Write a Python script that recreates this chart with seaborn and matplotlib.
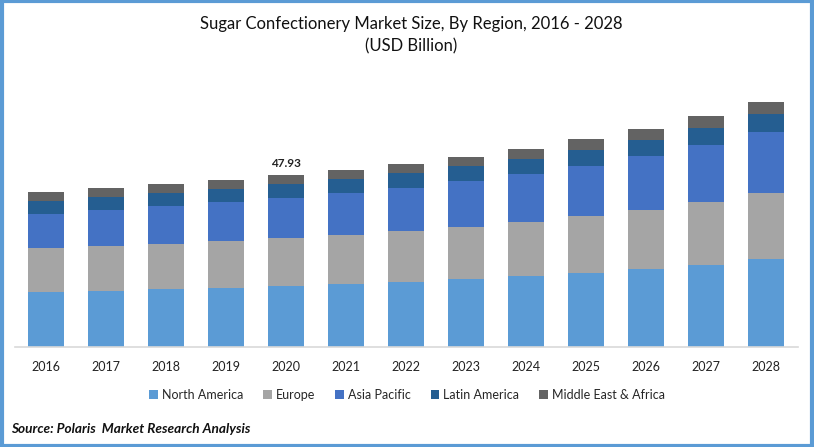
import numpy as np
import pandas as pd
import matplotlib
matplotlib.use('Agg')
import matplotlib.pyplot as plt
from matplotlib.patches import Rectangle, Patch
import seaborn as sns

# Data (USD Billion)
years = ['2016', '2017', '2018', '2019', '2020', '2021', '2022',
         '2023', '2024', '2025', '2026', '2027', '2028']
north_america = [15.33, 15.61, 16.16, 16.44, 17.00, 17.56, 18.11, 18.95, 19.79, 20.62, 21.74, 22.85, 24.52]
europe = [12.26, 12.54, 12.54, 13.10, 13.37, 13.66, 14.21, 14.49, 15.05, 15.88, 16.44, 17.56, 18.39]
asia_pacific = [9.48, 10.03, 10.59, 10.87, 11.15, 11.70, 11.98, 12.82, 13.38, 13.93, 15.05, 15.88, 17.00]
latin_america = [3.62, 3.62, 3.62, 3.62, 3.90, 3.90, 4.18, 4.18, 4.18, 4.46, 4.46, 4.74, 5.02]
mea = [2.51, 2.51, 2.51, 2.51, 2.51, 2.51, 2.51, 2.51, 2.79, 3.07, 3.07, 3.34, 3.34]

regions = ['North America', 'Europe', 'Asia Pacific', 'Latin America', 'Middle East & Africa']
colors = ['#5B9BD5', '#A5A5A5', '#4472C4', '#255E91', '#636363']
label_year = '2020'

df = pd.DataFrame({'year': years, 'North America': north_america, 'Europe': europe,
                   'Asia Pacific': asia_pacific, 'Latin America': latin_america,
                   'Middle East & Africa': mea})

sns.set_style('white')
plt.rcParams['font.family'] = ['Lato', 'DejaVu Sans']

fig = plt.figure(figsize=(8.14, 4.47), dpi=100)
ax = fig.add_axes([15 / 814, 1 - 347 / 447, 783 / 814, 258.4 / 447])

# stacked bars: draw cumulative totals from the top layer down
cum = df[regions].cumsum(axis=1)
for reg, col in zip(regions[::-1], colors[::-1]):
    sns.barplot(x=df['year'], y=cum[reg], color=col, width=0.6,
                saturation=1, linewidth=0, ax=ax)

total_2020 = df.loc[df['year'] == label_year, regions].sum(axis=1).iloc[0]
ax.text(years.index(label_year), total_2020 + 1.8, f'{total_2020:.2f}',
        ha='center', va='bottom', fontsize=8.5, fontweight='bold', color='#222222')

ax.set_ylim(0, 72)
ax.set_xlim(-0.517, 12.533)
ax.set_xlabel('')
ax.set_ylabel('')
ax.set_yticks([])
ax.tick_params(axis='x', length=0, labelsize=9, pad=10, colors='#222222')
for s in ['top', 'right', 'left']:
    ax.spines[s].set_visible(False)
ax.spines['bottom'].set_color('#D9D9D9')
ax.spines['bottom'].set_linewidth(1.2)

# title
fig.text(0.505, 1 - 24 / 447, 'Sugar Confectionery Market Size, By Region, 2016 - 2028',
         ha='center', va='center', fontsize=12, color='#111111')
fig.text(0.505, 1 - 46 / 447, '(USD Billion)', ha='center', va='center',
         fontsize=12, color='#111111')

# legend
handles = [Patch(facecolor=c, edgecolor='none', label=r) for r, c in zip(regions, colors)]
fig.legend(handles=handles, loc='center', bbox_to_anchor=(407 / 814, 1 - 395 / 447),
           ncol=5, frameon=False, fontsize=9, handlelength=0.7, handleheight=0.7,
           handletextpad=0.3, columnspacing=1.6)

# source
fig.text(11 / 814, 1 - 429 / 447, 'Source: Polaris  Market Research Analysis',
         ha='left', va='center', fontsize=9.8, fontweight='bold', fontstyle='italic',
         color='#111111')

# blue frame
fig.patches.append(Rectangle((0.002, 0.003), 0.996, 0.994, transform=fig.transFigure,
                             fill=False, edgecolor='#5B9BD5', linewidth=3))

fig.savefig('out.png', dpi=100)
